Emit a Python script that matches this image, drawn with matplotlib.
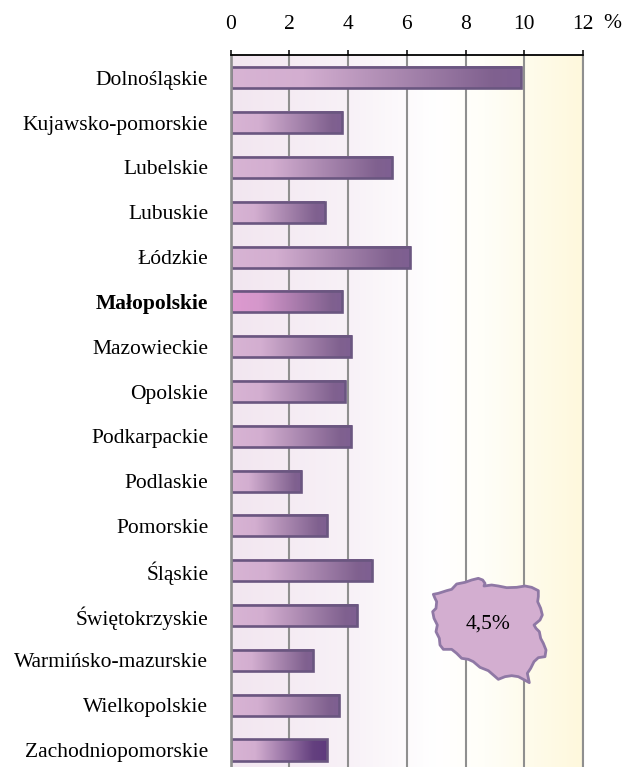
import numpy as np
import matplotlib
matplotlib.use("Agg")
import matplotlib.pyplot as plt
from matplotlib.colors import LinearSegmentedColormap
from matplotlib.patches import Polygon
from matplotlib.transforms import Affine2D

plt.rcParams['font.family'] = ['Liberation Serif', 'DejaVu Serif']

regions = ['Dolnośląskie', 'Kujawsko-pomorskie', 'Lubelskie', 'Lubuskie', 'Łódzkie',
           'Małopolskie', 'Mazowieckie', 'Opolskie', 'Podkarpackie', 'Podlaskie',
           'Pomorskie', 'Śląskie', 'Świętokrzyskie', 'Warmińsko-mazurskie',
           'Wielkopolskie', 'Zachodniopomorskie']
values = [9.9, 3.8, 5.5, 3.2, 6.1, 3.8, 4.1, 3.9, 4.1, 2.4, 3.3, 4.8, 4.3, 2.8, 3.7, 3.3]
x_ticks = [0, 2, 4, 6, 8, 10, 12]
country_label = '4,5%'

# kontur Polski, odczytany w pikselach z powiekszenia
poland_x = [70, 85, 110, 125, 140, 165, 185, 205, 218, 225, 222, 245, 265, 290, 320, 345,
            365, 385, 385, 383, 392, 397, 390, 372, 378, 388, 392, 400, 408, 405, 385, 372,
            362, 352, 358, 340, 325, 305, 285, 265, 250, 235, 210, 190, 175, 155, 140, 125,
            100, 90, 88, 78, 82, 72, 68, 78, 80, 75]
poland_y = [103, 100, 92, 88, 72, 67, 60, 55, 60, 70, 78, 75, 78, 83, 82, 78,
            82, 92, 110, 125, 145, 165, 180, 195, 205, 215, 235, 250, 270, 290, 293, 305,
            325, 340, 368, 358, 350, 347, 350, 358, 345, 332, 322, 305, 298, 295, 280, 268,
            268, 255, 235, 215, 195, 175, 155, 145, 125, 115]

W, H = 632, 767
L, R, T, B = 230.5, 583, 55, 767
FS = 15.5

fig = plt.figure(figsize=(W / 100, H / 100), dpi=100)
ax = fig.add_axes([L / W, 1 - B / H, (R - L) / W, (B - T) / H])

bg = LinearSegmentedColormap.from_list('bg', [(0, '#f2e6f0'), (0.33, '#f8f1f7'), (0.58, '#ffffff'),
                                              (0.72, '#fffef8'), (1, '#fef8dc')])
normal = LinearSegmentedColormap.from_list('bar', [(0, '#d8b4d4'), (0.25, '#d3aed0'),
                                                   (0.9, '#80618f'), (1, '#7e5f92')])
highlight = LinearSegmentedColormap.from_list('hl', [(0, '#de9ad0'), (0.25, '#d597cb'),
                                                     (0.9, '#80618f'), (1, '#7e5f92')])
last = LinearSegmentedColormap.from_list('last', [(0, '#d8b4d4'), (0.25, '#d3aed0'),
                                                  (0.85, '#64407f'), (1, '#5f3a7d')])
grad = np.linspace(0, 1, 256).reshape(1, -1)

ylim = (15.38, -0.51)
ax.imshow(grad, cmap=bg, extent=[0, 12, ylim[0], ylim[1]], aspect='auto', zorder=0)
ax.set_xticks(x_ticks)
ax.grid(axis='x', color='#8f8f8f', lw=1.5, zorder=1)
ax.set_axisbelow(True)

bars = ax.barh(range(len(regions)), values, height=0.47, facecolor='none',
               edgecolor='#6a5680', lw=1.9, zorder=3)
for i, (bar, v) in enumerate(zip(bars, values)):
    cm = highlight if regions[i] == 'Małopolskie' else last if i == len(regions) - 1 else normal
    im = ax.imshow(grad, cmap=cm, extent=[0, v, i + 0.235, i - 0.235], aspect='auto', zorder=2)

ax.set_xlim(0, 12)
ax.set_ylim(*ylim)

ax.xaxis.tick_top()
ax.tick_params(axis='x', length=3.8, width=1.1, color='black', pad=11.5, labelsize=FS)
ax.set_yticks(range(len(regions)))
ax.set_yticklabels(regions, fontsize=FS)
ax.tick_params(axis='y', length=0, pad=16)
ax.get_yticklabels()[regions.index('Małopolskie')].set_fontweight('bold')

ax.spines['bottom'].set_visible(False)
ax.spines['top'].set_linewidth(1.3)
ax.spines['top'].set_zorder(6)
ax.spines['left'].set_color('#8f8f8f')
ax.spines['left'].set_linewidth(1.9)
ax.spines['left'].set_zorder(5)
ax.spines['right'].set_color('#8f8f8f')
ax.spines['right'].set_linewidth(1.5)

# kontur w pikselach: powiekszenie 3x od punktu (410, 560)
to_fig = Affine2D().scale(1 / 3).translate(410, 560).scale(1, -1).translate(0, H)
pts = np.column_stack([poland_x, poland_y])
fig.add_artist(Polygon(pts, closed=True, facecolor='#d3aed0', edgecolor='#8f78a5', lw=2,
                       joinstyle='round', transform=to_fig, zorder=7))
fig.text(488 / W, 1 - 624 / H, country_label, fontsize=FS, ha='center', va='center', zorder=8)
fig.text(612 / W, 1 - 27.5 / H, '%', fontsize=FS, ha='center', va='baseline')

fig.savefig('out.png', dpi=100)
